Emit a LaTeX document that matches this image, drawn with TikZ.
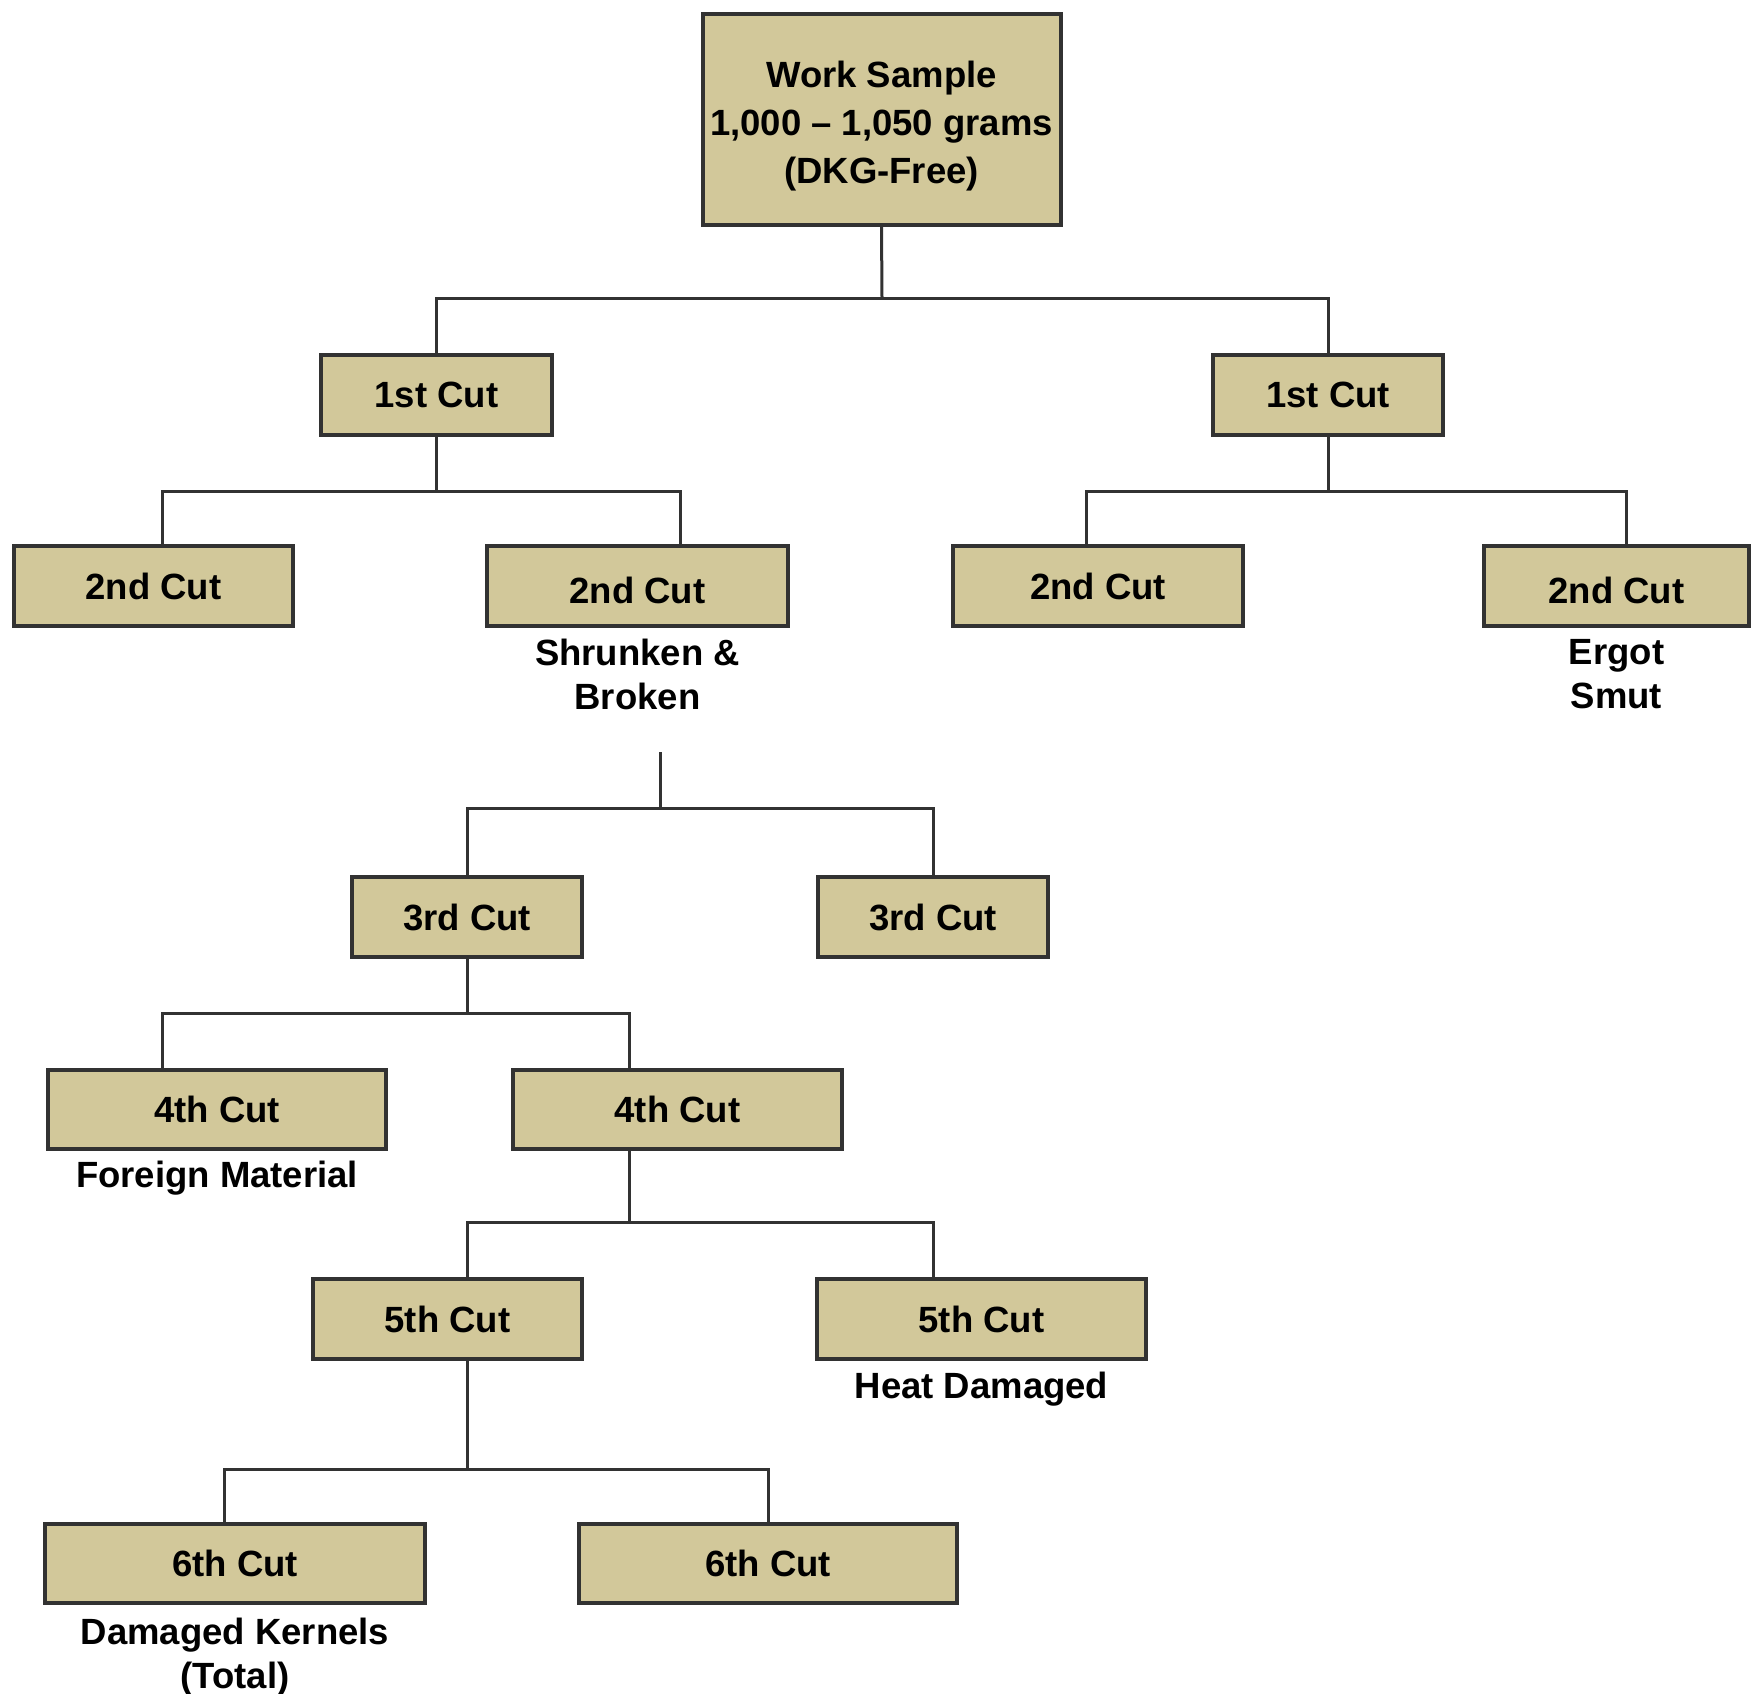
\documentclass[tikz,border=0pt]{standalone}
\usepackage{fontspec}
\setmainfont{Liberation Sans}
\usetikzlibrary{positioning}

\definecolor{cutfill}{RGB}{210,200,154}
\definecolor{cutline}{RGB}{50,50,50}

\tikzstyle{cut} = [draw=cutline, fill=cutfill, line width=4pt, inner sep=0pt,
    minimum height=80pt, align=center, font=\fontsize{36.5}{48}\selectfont\bfseries]
\tikzstyle{low} = [text height=36pt]
\tikzstyle{note} = [inner sep=0pt, align=center, font=\fontsize{36.5}{44}\selectfont\bfseries]
\tikzstyle{link} = [draw=cutline, line width=3pt]

\begin{document}
\begin{tikzpicture}[x=1pt, y=-1pt]
\fill[white] (0,0) rectangle (1761,1694);
\useasboundingbox (0,0) rectangle (1761,1694);

\node[cut, minimum width=358pt, minimum height=210pt] (root) at (881.5,119.5)
    {\rule{0pt}{40pt}Work Sample\\1,000 – 1,050 grams\\(DKG-Free)};

\node[cut, minimum width=231pt] (c1l) at (436.5,394.5) {1st Cut};
\node[cut, minimum width=230pt] (c1r) at (1328,394.5) {1st Cut};

\node[cut, minimum width=279pt] (c2a) at (153.5,586) {2nd Cut};
\node[cut, low, minimum width=301pt] (c2b) at (637.5,586) {2nd Cut};
\node[cut, minimum width=290pt] (c2c) at (1098,586) {2nd Cut};
\node[cut, low, minimum width=265pt] (c2d) at (1616.5,586) {2nd Cut};
\node[note, below=11pt of c2b] (shrunken) {Shrunken \&\\Broken};
\node[note, below=11pt of c2d] (ergot) {Ergot\\Smut};

\node[cut, minimum width=230pt] (c3a) at (467,917) {3rd Cut};
\node[cut, minimum width=230pt] (c3b) at (933,917) {3rd Cut};

\node[cut, minimum width=338pt, minimum height=79pt] (c4a) at (217,1109.5) {4th Cut};
\node[cut, minimum width=329pt, minimum height=79pt] (c4b) at (677.5,1109.5) {4th Cut};
\node[note, below=10pt of c4a] (foreign) {Foreign Material};

\node[cut, minimum width=269pt] (c5a) at (447.5,1319) {5th Cut};
\node[cut, minimum width=329pt] (c5b) at (981.5,1319) {5th Cut};
\node[note, below=11pt of c5b] (heat) {Heat Damaged};

\node[cut, minimum width=380pt, minimum height=79pt] (c6a) at (235,1563.5) {6th Cut};
\node[cut, minimum width=378pt, minimum height=79pt] (c6b) at (768,1563.5) {6th Cut};
\node[note, below=13pt of c6a] (damaged) {Damaged Kernels\\(Total)};

\coordinate (j0) at (882,298);
\draw[link] (root.south) -- (j0);
\draw[link] (c1l.north) |- (j0) -| (c1r.north);

\coordinate (j1l) at (436.5,491);
\draw[link] (c1l.south) -- (j1l);
\draw[link] ([xshift=8.5pt]c2a.north) |- (j1l) -| ([xshift=42.5pt]c2b.north);

\coordinate (j1r) at (1328,491);
\draw[link] (c1r.south) -- (j1r);
\draw[link] ([xshift=-12pt]c2c.north) |- (j1r) -| ([xshift=9.5pt]c2d.north);

\coordinate (s0) at (660,752);
\coordinate (j2) at (660,808);
\draw[link] (s0) -- (j2);
\draw[link] (c3a.north) |- (j2) -| (c3b.north);

\coordinate (j3) at (467,1013);
\draw[link] (c3a.south) -- (j3);
\draw[link] ([xshift=-55pt]c4a.north) |- (j3) -| ([xshift=-48.5pt]c4b.north);

\coordinate (j4) at (629,1222);
\draw[link] ([xshift=-48.5pt]c4b.south) -- (j4);
\draw[link] ([xshift=19.5pt]c5a.north) |- (j4) -| ([xshift=-48.5pt]c5b.north);

\coordinate (j5) at (467,1469);
\draw[link] ([xshift=19.5pt]c5a.south) -- (j5);
\draw[link] ([xshift=-11pt]c6a.north) |- (j5) -| (c6b.north);
\end{tikzpicture}
\end{document}
